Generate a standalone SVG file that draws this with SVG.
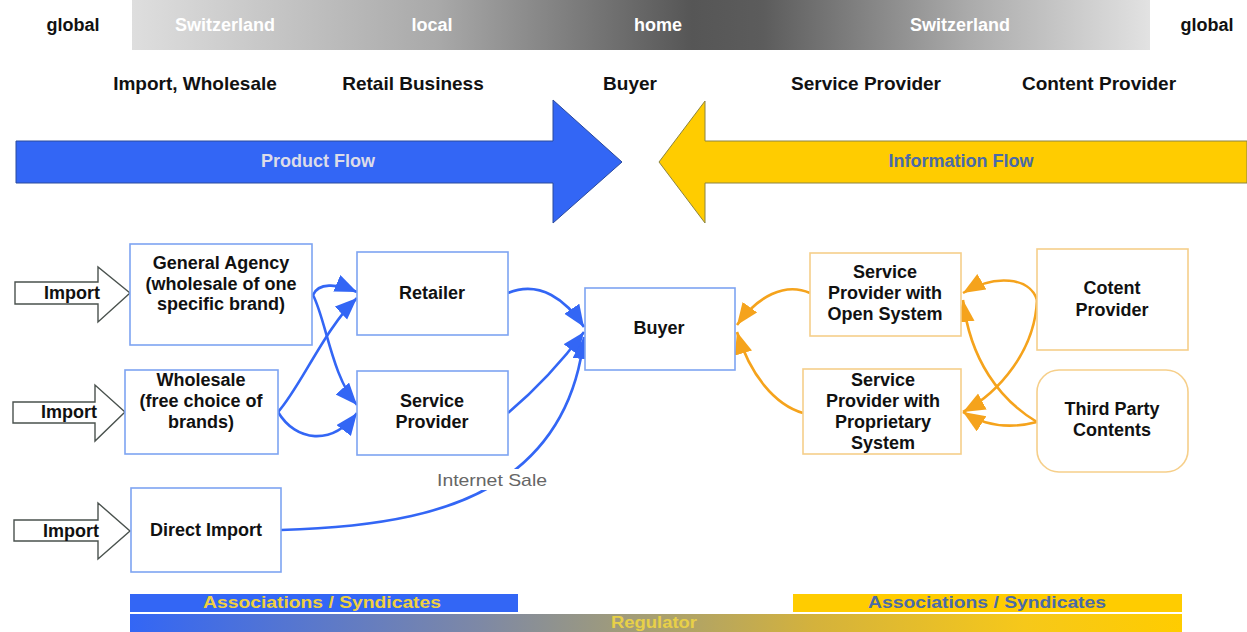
<svg xmlns="http://www.w3.org/2000/svg" width="1247" height="632" viewBox="0 0 1247 632">
  <style>
    text { font-family: "Liberation Sans", Arial, sans-serif; font-weight: bold; text-anchor: middle; }
    .hdr { font-size: 18px; fill: #111; }
    .bar { font-size: 18px; fill: #ffffff; }
    .role { font-size: 19px; fill: #111; }
    .lbl { font-size: 18px; fill: #111; }
    .imp { font-size: 18px; fill: #111; }
    .nb { fill: #ffffff; stroke: #7ea4f2; stroke-width: 1.6; }
    .no { fill: #ffffff; stroke: #f6cf8a; stroke-width: 1.6; }
    .imparrow { fill: #ffffff; stroke: #4a524e; stroke-width: 1.4; }
    .cb { fill: none; stroke: #3366f5; stroke-width: 2.6; marker-end: url(#headBlue); }
    .co { fill: none; stroke: #f5a31c; stroke-width: 2.6; marker-end: url(#headOrange); }
  </style>
  <defs>
    <linearGradient id="scope" x1="0" y1="0" x2="1" y2="0">
      <stop offset="0" stop-color="#dedede"/>
      <stop offset="0.3" stop-color="#a9a9a9"/>
      <stop offset="0.55" stop-color="#565656"/>
      <stop offset="0.62" stop-color="#5c5c5c"/>
      <stop offset="0.82" stop-color="#aaaaaa"/>
      <stop offset="1" stop-color="#e2e2e2"/>
    </linearGradient>
    <linearGradient id="regulator" x1="0" y1="0" x2="1" y2="0">
      <stop offset="0" stop-color="#3366f5"/>
      <stop offset="0.33" stop-color="#7d88a6"/>
      <stop offset="0.5" stop-color="#a8a070"/>
      <stop offset="0.65" stop-color="#d4b23c"/>
      <stop offset="0.85" stop-color="#f6c81a"/>
      <stop offset="1" stop-color="#ffcc00"/>
    </linearGradient>
    <marker id="headBlue" markerUnits="userSpaceOnUse" markerWidth="24" markerHeight="20" refX="22" refY="9" orient="auto">
      <path d="M0,0 L22,9 L0,18 z" fill="#3366f5"/>
    </marker>
    <marker id="headOrange" markerUnits="userSpaceOnUse" markerWidth="24" markerHeight="20" refX="22" refY="9" orient="auto">
      <path d="M0,0 L22,9 L0,18 z" fill="#f5a31c"/>
    </marker>
  </defs>

  <rect width="1247" height="632" fill="#ffffff"/>

  <!-- scope band along the top -->
  <g id="scope-band">
    <rect x="132" y="0" width="1018" height="50" fill="url(#scope)"/>
    <text class="hdr" x="73" y="31">global</text>
    <text class="bar" x="225" y="31">Switzerland</text>
    <text class="bar" x="432" y="31">local</text>
    <text class="bar" x="658" y="31">home</text>
    <text class="bar" x="960" y="31">Switzerland</text>
    <text class="hdr" x="1207" y="31">global</text>
  </g>

  <!-- market roles -->
  <g id="roles">
    <text class="role" x="195" y="90">Import, Wholesale</text>
    <text class="role" x="413" y="90">Retail Business</text>
    <text class="role" x="630" y="90">Buyer</text>
    <text class="role" x="866" y="90">Service Provider</text>
    <text class="role" x="1099" y="90">Content Provider</text>
  </g>

  <!-- big flow arrows -->
  <g id="product-flow">
    <polygon points="16,141 553,141 553,100 622,162 553,223 553,183 16,183" fill="#3366f5" stroke="#2b4a9c" stroke-width="1"/>
    <text x="318" y="167" style="font-size:18px;fill:#dcdce8">Product Flow</text>
  </g>
  <g id="information-flow">
    <polygon points="1247,141 705,141 705,101 659,162 705,223 705,183 1247,183" fill="#ffcc00" stroke="#8c8440" stroke-width="1"/>
    <text x="961" y="167" style="font-size:18px;fill:#4a6aa8">Information Flow</text>
  </g>

  <!-- connectors -->
  <g id="connectors">
    <path class="cb" d="M313,295 C318,283 336,283 357,292"/>
    <path class="cb" d="M313,295 C326,320 332,377 357,405"/>
    <path class="cb" d="M278,412 C300,388 325,328 357,298"/>
    <path class="cb" d="M278,412 C296,442 332,446 357,413"/>
    <path class="cb" d="M508,293 C540,280 566,300 584,327"/>
    <path class="cb" d="M508,413 C540,386 566,356 584,332"/>
    <path class="cb" d="M281,530 C390,527 450,510 490,487 C540,458 576,410 584,337"/>

    <path class="co" d="M810,293 C785,282 758,296 737,325"/>
    <path class="co" d="M803,413 C775,405 750,375 737,332"/>
    <path class="co" d="M1037,300 C1030,277 995,274 963,293"/>
    <path class="co" d="M1037,300 C1035,350 1000,392 963,412"/>
    <path class="co" d="M1037,422 C1000,400 970,360 963,300"/>
    <path class="co" d="M1037,422 C1010,429 985,426 963,412"/>

    <g id="internet-sale">
      <rect x="435" y="469" width="114" height="21" fill="#ffffff"/>
      <text x="492" y="486" style="font-size:17px;font-weight:normal;fill:#666666" textLength="110" lengthAdjust="spacingAndGlyphs">Internet Sale</text>
    </g>
  </g>

  <!-- import inputs -->
  <g id="import-1">
    <polygon class="imparrow" points="15,282 98,282 98,267 130,293 98,322 98,304 15,304"/>
    <text class="imp" x="72" y="299">Import</text>
  </g>
  <g id="import-2">
    <polygon class="imparrow" points="13,402 95,402 95,385 125,412 95,441 95,423 13,423"/>
    <text class="imp" x="69" y="418">Import</text>
  </g>
  <g id="import-3">
    <polygon class="imparrow" points="14,520 98,520 98,503 130,531 98,559 98,541 14,541"/>
    <text class="imp" x="71" y="537">Import</text>
  </g>

  <!-- product side -->
  <g id="general-agency">
    <rect class="nb" x="130" y="244" width="182" height="101"/>
    <text class="lbl" x="221" y="269">General Agency</text>
    <text class="lbl" x="221" y="290">(wholesale of one</text>
    <text class="lbl" x="221" y="310">specific brand)</text>
  </g>
  <g id="wholesale">
    <rect class="nb" x="125" y="370" width="153" height="84"/>
    <text class="lbl" x="201" y="386">Wholesale</text>
    <text class="lbl" x="201" y="407">(free choice of</text>
    <text class="lbl" x="201" y="428">brands)</text>
  </g>
  <g id="direct-import">
    <rect class="nb" x="131" y="488" width="150" height="84"/>
    <text class="lbl" x="206" y="536">Direct Import</text>
  </g>
  <g id="retailer">
    <rect class="nb" x="357" y="252" width="151" height="83"/>
    <text class="lbl" x="432" y="299">Retailer</text>
  </g>
  <g id="service-provider">
    <rect class="nb" x="357" y="371" width="151" height="84"/>
    <text class="lbl" x="432" y="407">Service</text>
    <text class="lbl" x="432" y="428">Provider</text>
  </g>
  <g id="buyer">
    <rect class="nb" x="585" y="288" width="150" height="82"/>
    <text class="lbl" x="659" y="334">Buyer</text>
  </g>

  <!-- information side -->
  <g id="sp-open">
    <rect class="no" x="810" y="253" width="151" height="83"/>
    <text class="lbl" x="885" y="278">Service</text>
    <text class="lbl" x="885" y="299">Provider with</text>
    <text class="lbl" x="885" y="320">Open System</text>
  </g>
  <g id="sp-proprietary">
    <rect class="no" x="803" y="369" width="158" height="85"/>
    <text class="lbl" x="883" y="386">Service</text>
    <text class="lbl" x="883" y="407">Provider with</text>
    <text class="lbl" x="883" y="428">Proprietary</text>
    <text class="lbl" x="883" y="449">System</text>
  </g>
  <g id="content-provider">
    <rect class="no" x="1037" y="249" width="151" height="101"/>
    <text class="lbl" x="1112" y="294">Cotent</text>
    <text class="lbl" x="1112" y="316">Provider</text>
  </g>
  <g id="third-party">
    <rect class="no" x="1037" y="370" width="151" height="102" rx="22"/>
    <text class="lbl" x="1112" y="415">Third Party</text>
    <text class="lbl" x="1112" y="436">Contents</text>
  </g>

  <!-- bottom bands -->
  <g id="associations-product">
    <rect x="130" y="594" width="388" height="18" fill="#3366f5"/>
    <text x="322" y="608" style="font-size:16px;fill:#f0d040" textLength="238" lengthAdjust="spacingAndGlyphs">Associations / Syndicates</text>
  </g>
  <g id="associations-information">
    <rect x="793" y="594" width="389" height="18" fill="#ffcc00"/>
    <text x="987" y="608" style="font-size:16px;fill:#4a6aa8" textLength="238" lengthAdjust="spacingAndGlyphs">Associations / Syndicates</text>
  </g>
  <g id="regulator-band">
    <rect x="130" y="614" width="1052" height="18" fill="url(#regulator)"/>
    <text x="654" y="628" style="font-size:16px;fill:#e8d048" textLength="86" lengthAdjust="spacingAndGlyphs">Regulator</text>
  </g>
</svg>
